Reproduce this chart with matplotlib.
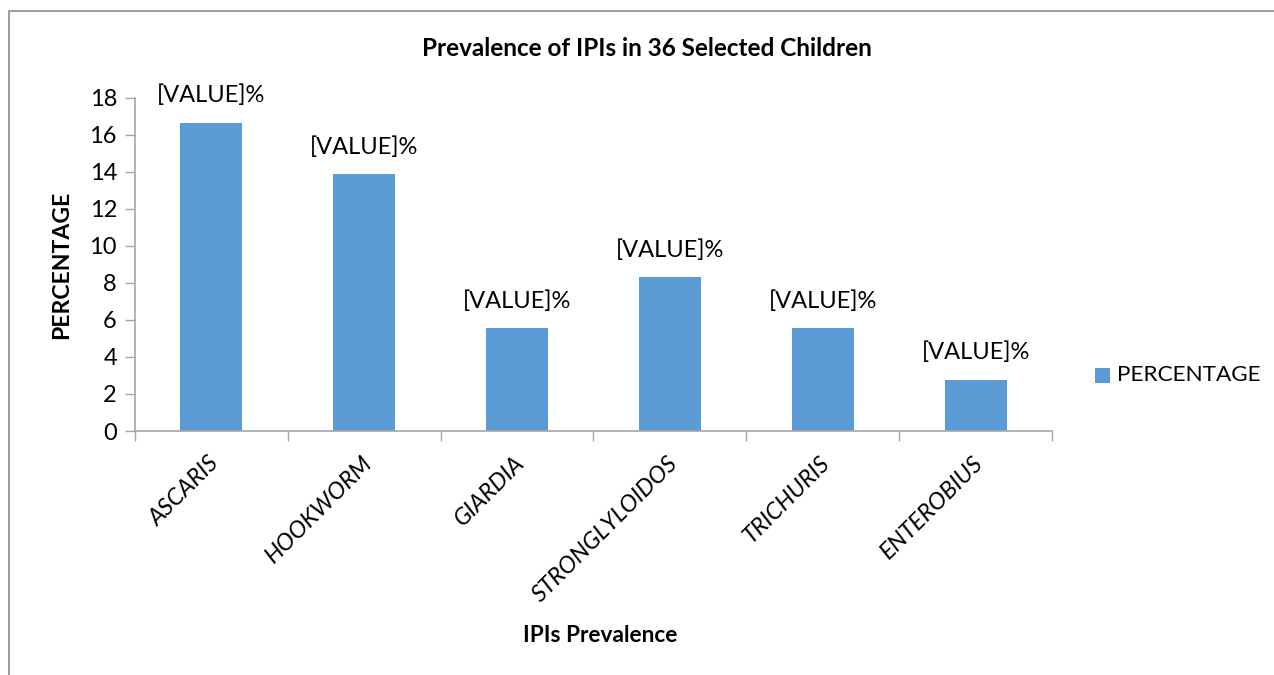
import matplotlib
matplotlib.use("Agg")
import matplotlib.pyplot as plt
from matplotlib.patches import Rectangle

categories = ["ASCARIS", "HOOKWORM", "GIARDIA", "STRONGLYLOIDOS", "TRICHURIS", "ENTEROBIUS"]
values = [16.67, 13.89, 5.56, 8.33, 5.56, 2.78]
bar_labels = ["[VALUE]%"] * 6
yticks = [0, 2, 4, 6, 8, 10, 12, 14, 16, 18]
series_name = "PERCENTAGE"

FONT = ["Lato", "DejaVu Sans"]
plt.rcParams['font.family'] = FONT
BLUE = "#5B9BD5"
GRAY = "#A6A6A6"

W, H = 1274, 675
fig = plt.figure(figsize=(W/100, H/100), dpi=100)
ax = fig.add_axes([135/W, 1-431/H, (1052-135)/W, (431-98)/H])

x = list(range(len(categories)))
bars = ax.bar(x, values, width=0.405, color=BLUE, label=series_name)
ax.set_xlim(-0.5, len(categories)-0.5)
ax.set_ylim(0, 18)
ax.set_yticks(yticks)
ax.set_yticklabels([str(t) for t in yticks], fontsize=17)
ax.tick_params(axis='y', length=7, width=1, color=GRAY, pad=6)

ax.set_xticks([i - 0.5 for i in range(len(categories)+1)], minor=False)
ax.set_xticklabels([])
ax.tick_params(axis='x', which='major', length=7, width=1, color=GRAY, direction='out')
for i, c in enumerate(categories):
    ax.text(i - 0.02, -1.15, c, rotation=45, ha='right', va='top', rotation_mode='anchor',
            fontsize=17, fontstyle='italic')

for s in ['top', 'right']:
    ax.spines[s].set_visible(False)
for s in ['left', 'bottom']:
    ax.spines[s].set_color(GRAY)
    ax.spines[s].set_linewidth(1.2)

for b, lab in zip(bars, bar_labels):
    ax.annotate(lab, (b.get_x() + b.get_width()/2, b.get_height()),
                xytext=(0, 27), textcoords='offset pixels', ha='center', va='center', fontsize=17)

fig.text(647/W, 1-48/H, "Prevalence of IPIs in 36 Selected Children", ha='center', va='center',
         fontsize=17.5, fontweight='bold')
fig.text(62/W, 1-265/H, "PERCENTAGE", rotation=90, ha='center', va='center', fontsize=16.6, fontweight='bold')
fig.text(600/W, 1-635/H, "IPIs Prevalence", ha='center', va='center', fontsize=16.3, fontweight='bold')

# legend
fig.patches.append(Rectangle((1095/W, 1-383/H), 15/W, 15/H, transform=fig.transFigure,
                             facecolor=BLUE, edgecolor='none'))
fig.text(1117/W, 1-375/H, series_name, ha='left', va='center', fontsize=16.2)

# outer border
fig.patches.append(Rectangle((9/W, -0.05), 1.2, 1.05 - 11/H, transform=fig.transFigure,
                             facecolor='none', edgecolor='#8C8C8C', linewidth=1.2))

fig.savefig("out.png", dpi=100)
